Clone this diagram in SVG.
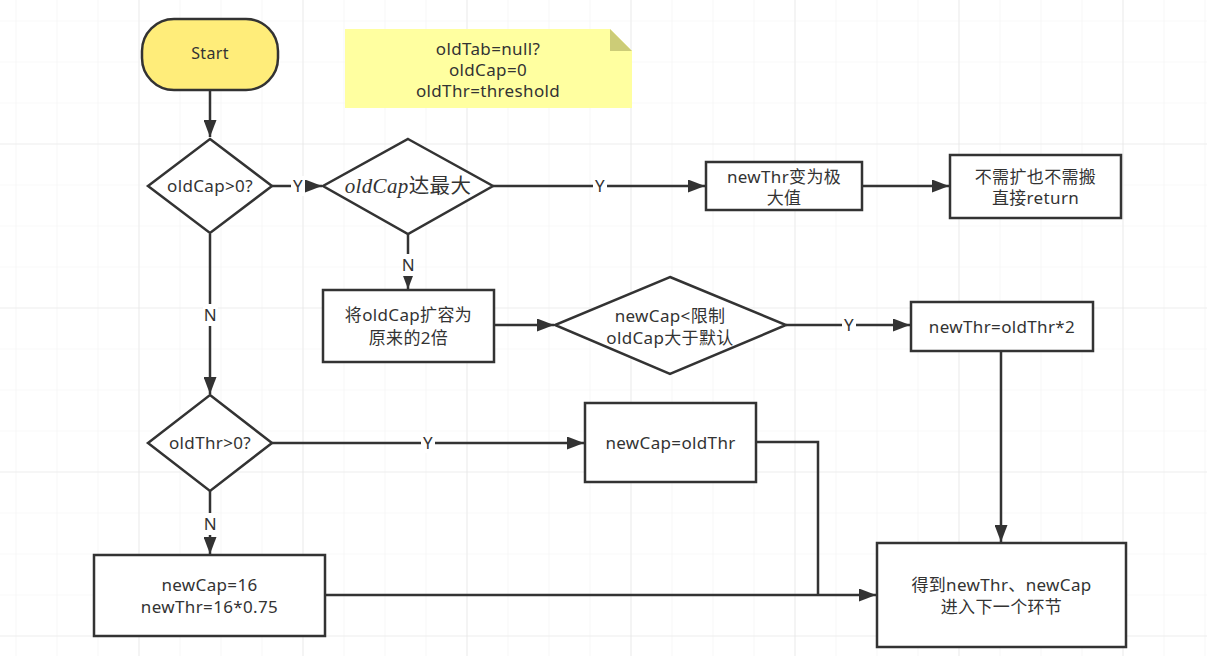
<svg xmlns="http://www.w3.org/2000/svg" width="1207" height="656" viewBox="0 0 1207 656">
<defs>
<pattern id="minor" x="15.5" y="20.5" width="41" height="41" patternUnits="userSpaceOnUse">
<path d="M0,0 H41 M0,0 V41" fill="none" stroke="#f1f1f1" stroke-width="1.2"/>
</pattern>
<pattern id="major" x="138.5" y="143.5" width="164" height="164" patternUnits="userSpaceOnUse">
<path d="M0,0 H164 M0,0 V164" fill="none" stroke="#e4e4e4" stroke-width="1.2"/>
</pattern>
<marker id="arr" markerUnits="userSpaceOnUse" markerWidth="18" markerHeight="13" refX="17" refY="6.5" orient="auto">
<path d="M0,0 L17,6.5 L0,13 Z" fill="#333"/>
</marker>
<style>
.shape{fill:#fff;stroke:#333;stroke-width:2.5}
.t{font-family:"Noto Sans","Noto Sans CJK SC",sans-serif;font-size:17px;letter-spacing:0.35px;fill:#333;text-anchor:middle}
.line{fill:none;stroke:#333;stroke-width:2.5}
.lbg{fill:#fff}
.math{font-family:"Liberation Serif","DejaVu Serif",serif;font-style:italic;font-size:21px}
</style>
</defs>
<rect width="1207" height="656" fill="#fff"/>
<rect width="1207" height="656" fill="url(#minor)"/>
<rect width="1207" height="656" fill="url(#major)"/>

<g id="connectors">
<path class="line" d="M210,90 V137" marker-end="url(#arr)"/>
<path class="line" d="M272,186 H322" marker-end="url(#arr)"/>
<path class="line" d="M493,186 H705" marker-end="url(#arr)"/>
<path class="line" d="M862,186 H949" marker-end="url(#arr)"/>
<path class="line" d="M408,234 V289" marker-end="url(#arr)"/>
<path class="line" d="M494,325 H554" marker-end="url(#arr)"/>
<path class="line" d="M786,325 H910" marker-end="url(#arr)"/>
<path class="line" d="M1001,351 V542" marker-end="url(#arr)"/>
<path class="line" d="M210,234 V394" marker-end="url(#arr)"/>
<path class="line" d="M272,443 H584" marker-end="url(#arr)"/>
<path class="line" d="M210,491 V554" marker-end="url(#arr)"/>
<path class="line" d="M756,442 H818 V595"/>
<path class="line" d="M325,595 H876" marker-end="url(#arr)"/>
<rect class="lbg" x="291" y="176" width="14" height="20"/>
<text class="t" x="298" y="192">Y</text>
<rect class="lbg" x="593" y="176" width="14" height="20"/>
<text class="t" x="600" y="192">Y</text>
<rect class="lbg" x="401" y="254" width="15" height="22"/>
<text class="t" x="408.5" y="271">N</text>
<rect class="lbg" x="842" y="315" width="14" height="20"/>
<text class="t" x="849" y="331">Y</text>
<rect class="lbg" x="203" y="304" width="15" height="22"/>
<text class="t" x="210.5" y="321">N</text>
<rect class="lbg" x="421" y="433" width="14" height="20"/>
<text class="t" x="428" y="449">Y</text>
<rect class="lbg" x="203" y="513" width="15" height="22"/>
<text class="t" x="210.5" y="530">N</text>
</g>

<g id="note">
<path d="M345,29 H610 L632,51 V108 H345 Z" fill="#ffffa0"/>
<path d="M610,29 L632,51 H610 Z" fill="#cccc77"/>
<text class="t" x="488" y="55">oldTab=null?</text>
<text class="t" x="488" y="76">oldCap=0</text>
<text class="t" x="488" y="97">oldThr=threshold</text>
</g>

<g id="start">
<rect x="142" y="19" width="136" height="71" rx="32" ry="32" fill="#ffed7a" stroke="#333" stroke-width="2.5"/>
<text class="t" x="210" y="59" style="font-size:16px">Start</text>
</g>

<g id="d-oldcap">
<path class="shape" d="M210,139 L272,186 L210,233 L148,186 Z"/>
<text class="t" x="210" y="192">oldCap&gt;0?</text>
</g>

<g id="d-max">
<path class="shape" d="M408,139 L493,186 L408,234 L323,186 Z"/>
<text class="t" x="408" y="193" style="font-size:20.5px"><tspan class="math">oldCap</tspan>达最大</text>
</g>

<g id="n-maxthr">
<rect class="shape" x="706" y="162" width="156" height="48"/>
<text class="t" x="784" y="183">newThr变为极</text>
<text class="t" x="784" y="204">大值</text>
</g>

<g id="n-return">
<rect class="shape" x="950" y="155" width="171" height="63"/>
<text class="t" x="1035.5" y="183">不需扩也不需搬</text>
<text class="t" x="1035.5" y="204">直接return</text>
</g>

<g id="n-double">
<rect class="shape" x="323" y="290" width="171" height="72"/>
<text class="t" x="408.5" y="321">将oldCap扩容为</text>
<text class="t" x="408.5" y="344">原来的2倍</text>
</g>

<g id="d-limit">
<path class="shape" d="M670,277 L786,325 L670,374 L555,325 Z"/>
<text class="t" x="670" y="322">newCap&lt;限制</text>
<text class="t" x="670" y="344">oldCap大于默认</text>
</g>

<g id="n-thr2">
<rect class="shape" x="911" y="302" width="182" height="49"/>
<text class="t" x="1002" y="333">newThr=oldThr*2</text>
</g>

<g id="d-oldthr">
<path class="shape" d="M210,395 L272,443 L210,491 L148,443 Z"/>
<text class="t" x="210" y="449">oldThr&gt;0?</text>
</g>

<g id="n-capthr">
<rect class="shape" x="585" y="403" width="171" height="79"/>
<text class="t" x="670.5" y="449">newCap=oldThr</text>
</g>

<g id="n-default">
<rect class="shape" x="94" y="555" width="231" height="81"/>
<text class="t" x="209.5" y="591">newCap=16</text>
<text class="t" x="209.5" y="613">newThr=16*0.75</text>
</g>

<g id="n-final">
<rect class="shape" x="877" y="543" width="249" height="104"/>
<text class="t" x="1001.5" y="591">得到newThr、newCap</text>
<text class="t" x="1001.5" y="613">进入下一个环节</text>
</g>
</svg>
